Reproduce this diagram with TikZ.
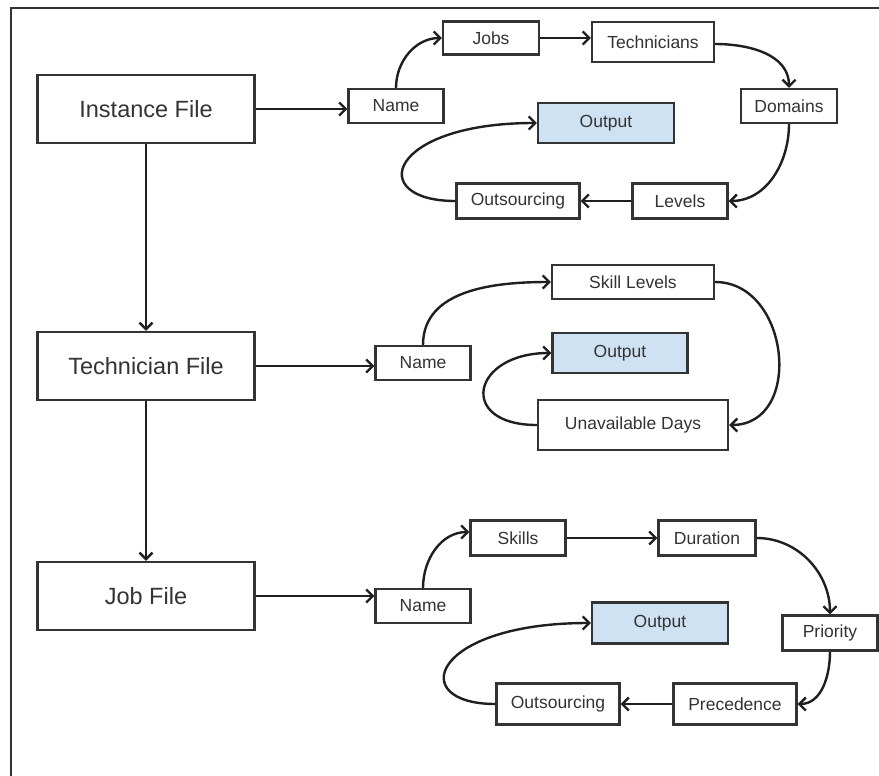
\documentclass[tikz,border=0pt]{standalone}
\usepackage{fontspec}
\setmainfont{Liberation Sans}
\usetikzlibrary{arrows.meta}
\definecolor{ink}{HTML}{333333}
\definecolor{outfill}{HTML}{CFE2F3}
\begin{document}
\begin{tikzpicture}[x=1pt,y=-1pt,
  filebox/.style={draw=ink, line width=2.3pt, minimum width=217pt, minimum height=68pt,
    inner sep=0pt, text=ink, font=\fontsize{23.5}{27}\selectfont},
  item/.style={draw=ink, line width=2.2pt, inner sep=0pt, text=ink,
    font=\fontsize{17.5}{21}\selectfont},
  outbox/.style={item, fill=outfill},
  conn/.style={draw=black!88, line width=2.4pt, -{Straight Barb[length=6.5pt,width=13pt]}}
]
\useasboundingbox (0,0) rectangle (879,776);
\fill[white] (0,0) rectangle (879,776);

% outer frame (open to the right and bottom)
\draw[ink, line width=2.4pt] (11,776) -- (11,8) -- (879,8);

% input files
\node[filebox] (instf) at (146,109) {Instance File};
\node[filebox] (techf) at (146,366) {Technician File};
\node[filebox] (jobf)  at (146,596) {Job File};

% instance file contents
\node[item, minimum width=95pt,  minimum height=34pt] (nameA)  at (396,106) {Name};
\node[item, minimum width=96pt,  minimum height=33pt] (jobs)   at (491,38)  {Jobs};
\node[item, minimum width=122pt, minimum height=40pt] (techs)  at (653,42)  {Technicians};
\node[item, minimum width=96pt,  minimum height=34pt] (doms)   at (789,106) {Domains};
\node[item, minimum width=95pt,  minimum height=35pt] (levels) at (680,201) {Levels};
\node[item, minimum width=123pt, minimum height=35pt] (outsA)  at (518,201) {Outsourcing};
\node[outbox, minimum width=136pt, minimum height=40pt] (outA) at (606,123) {Output};

% technician file contents
\node[item, minimum width=95pt,  minimum height=34pt] (nameB)  at (423,363) {Name};
\node[item, minimum width=162pt, minimum height=34pt] (skillL) at (633,282) {Skill Levels};
\node[outbox, minimum width=135pt, minimum height=40pt] (outB) at (620,353) {Output};
\node[item, minimum width=190pt, minimum height=50pt] (unav)   at (633,425) {Unavailable Days};

% job file contents
\node[item, minimum width=95pt,  minimum height=34pt] (nameC)  at (423,606) {Name};
\node[item, minimum width=95pt,  minimum height=35pt] (skills) at (518,538) {Skills};
\node[item, minimum width=97pt,  minimum height=35pt] (dur)    at (707,538) {Duration};
\node[item, minimum width=95pt,  minimum height=35pt] (prio)   at (830,633) {Priority};
\node[item, minimum width=123pt, minimum height=41pt] (prec)   at (735,704) {Precedence};
\node[item, minimum width=123pt, minimum height=41pt] (outsC)  at (558,704) {Outsourcing};
\node[outbox, minimum width=136pt, minimum height=41pt] (outC) at (660,623) {Output};

% file chain
\draw[conn] (instf.south) -- (techf.north);
\draw[conn] (techf.south) -- (jobf.north);

% instance file flow
\draw[conn] (instf.east) -- (instf.east -| nameA.west);
\draw[conn] (nameA.north) to[out=90,in=180] (jobs.west);
\draw[conn] (jobs.east) -- (jobs.east -| techs.west);
\draw[conn] ([yshift=-2pt]techs.east) to[out=0,in=90] (doms.north);
\draw[conn] (doms.south) to[out=-90,in=0] (levels.east);
\draw[conn] (levels.west) -- (outsA.east);
\draw[conn] (outsA.west) to[out=180,in=180,out distance=90pt,in distance=150pt] (outA.west);

% technician file flow
\draw[conn] (techf.east) -- (techf.east -| nameB.west);
\draw[conn] (nameB.north) to[out=90,in=180] (skillL.west);
\draw[conn] (skillL.east) to[out=0,in=0,out distance=75pt,in distance=75pt] (unav.east);
\draw[conn] (unav.west) to[out=180,in=180,out distance=80pt,in distance=80pt] (outB.west);

% job file flow
\draw[conn] (jobf.east) -- (jobf.east -| nameC.west);
\draw[conn] (nameC.north) to[out=90,in=180] ([yshift=6pt]skills.west);
\draw[conn] (skills.east) -- (dur.west);
\draw[conn] (dur.east) to[out=0,in=90] (prio.north);
\draw[conn] (prio.south) to[out=-90,in=0] (prec.east);
\draw[conn] (prec.west) -- (outsC.east);
\draw[conn] (outsC.west) to[out=180,in=180,out distance=90pt,in distance=160pt] (outC.west);
\end{tikzpicture}
\end{document}
